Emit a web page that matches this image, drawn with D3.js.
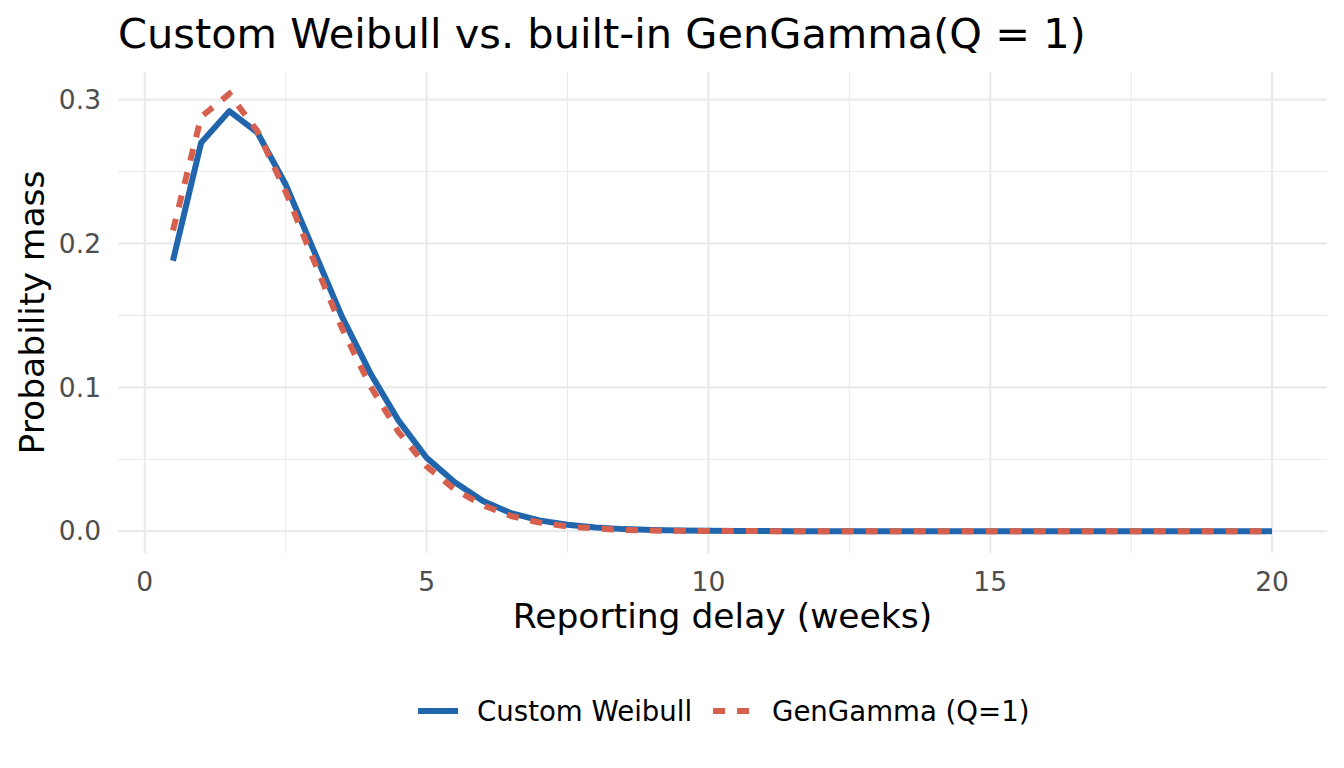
<!DOCTYPE html>
<html>
<head>
<meta charset="utf-8">
<script src="https://cdn.jsdelivr.net/npm/d3@7"></script>
<style>
  body { margin: 0; background: #fff; }
  text { font-family: "DejaVu Sans", sans-serif; }
</style>
</head>
<body>
<div id="chart"></div>
<script>
// delay grid (weeks)
const delays = d3.range(1, 41).map(i => i * 0.5);

// probability mass
const weibull = [0.188, 0.270, 0.292, 0.277, 0.241, 0.195, 0.149, 0.110, 0.077, 0.051,
  0.034, 0.021, 0.0125, 0.0075, 0.0045, 0.0026, 0.0014, 0.0008, 0.0004, 0.0002,
  0.0001, 0.00005, 0, 0, 0, 0, 0, 0, 0, 0,
  0, 0, 0, 0, 0, 0, 0, 0, 0, 0];
const gengamma = [0.209, 0.288, 0.304, 0.278, 0.236, 0.188, 0.141, 0.101, 0.069, 0.045,
  0.029, 0.018, 0.0105, 0.006, 0.0033, 0.0018, 0.0009, 0.0004, 0.0002, 0.0001,
  0.00004, 0, 0, 0, 0, 0, 0, 0, 0, 0,
  0, 0, 0, 0, 0, 0, 0, 0, 0, 0];

const seriesNames = ["Custom Weibull", "GenGamma (Q=1)"];
const seriesColors = ["#2166ac", "#d6604d"];
const xTicks = [0, 5, 10, 15, 20];
const yTicks = [0, 0.1, 0.2, 0.3];

const W = 1344, H = 768;
const panel = { left: 118, right: 1327, top: 72, bottom: 553 };

const svg = d3.select("#chart").append("svg")
  .attr("width", W).attr("height", H);

// ggplot style 5% expansion
const xExt = d3.extent(delays);
const xPad = (xExt[1] - xExt[0]) * 0.05;
const yMax = d3.max(weibull.concat(gengamma));
const yPad = yMax * 0.05;

const x = d3.scaleLinear().domain([xExt[0] - xPad, xExt[1] + xPad]).range([panel.left, panel.right]);
const y = d3.scaleLinear().domain([-yPad, yMax + yPad]).range([panel.bottom, panel.top]);

// grid
const grid = svg.append("g");
const xMinor = [2.5, 7.5, 12.5, 17.5];
const yMinor = [0.05, 0.15, 0.25];
grid.selectAll("line.xminor").data(xMinor).join("line")
  .attr("x1", d => x(d)).attr("x2", d => x(d))
  .attr("y1", panel.top).attr("y2", panel.bottom)
  .attr("stroke", "#ebebeb").attr("stroke-width", 1.1);
grid.selectAll("line.yminor").data(yMinor).join("line")
  .attr("y1", d => y(d)).attr("y2", d => y(d))
  .attr("x1", panel.left).attr("x2", panel.right)
  .attr("stroke", "#ebebeb").attr("stroke-width", 1.1);
grid.selectAll("line.xmajor").data(xTicks).join("line")
  .attr("x1", d => x(d)).attr("x2", d => x(d))
  .attr("y1", panel.top).attr("y2", panel.bottom)
  .attr("stroke", "#ebebeb").attr("stroke-width", 2.2);
grid.selectAll("line.ymajor").data(yTicks).join("line")
  .attr("y1", d => y(d)).attr("y2", d => y(d))
  .attr("x1", panel.left).attr("x2", panel.right)
  .attr("stroke", "#ebebeb").attr("stroke-width", 2.2);

// tick labels
svg.append("g").selectAll("text").data(yTicks).join("text")
  .attr("x", 101).attr("y", d => y(d))
  .attr("dy", "0.35em")
  .attr("text-anchor", "end")
  .attr("fill", "#4d4d4d")
  .style("font-size", "26.5px")
  .text(d => d3.format(".1f")(d));

svg.append("g").selectAll("text").data(xTicks).join("text")
  .attr("x", d => x(d)).attr("y", 591)
  .attr("text-anchor", "middle")
  .attr("fill", "#4d4d4d")
  .style("font-size", "26.5px")
  .text(d => d);

// lines
const line = d3.line().x((d, i) => x(delays[i])).y(d => y(d));
svg.append("path").datum(weibull)
  .attr("d", line)
  .attr("fill", "none")
  .attr("stroke", seriesColors[0])
  .attr("stroke-width", 6)
  .attr("stroke-linejoin", "round");
svg.append("path").datum(gengamma)
  .attr("d", line)
  .attr("fill", "none")
  .attr("stroke", seriesColors[1])
  .attr("stroke-width", 6)
  .attr("stroke-dasharray", "12,12");

// titles
svg.append("text")
  .attr("x", 118).attr("y", 48)
  .style("font-size", "41.5px")
  .attr("fill", "#000")
  .text("Custom Weibull vs. built-in GenGamma(Q = 1)");

svg.append("text")
  .attr("x", (panel.left + panel.right) / 2).attr("y", 628)
  .attr("text-anchor", "middle")
  .style("font-size", "34.5px")
  .text("Reporting delay (weeks)");

svg.append("text")
  .attr("transform", `translate(44,${(panel.top + panel.bottom) / 2}) rotate(-90)`)
  .attr("text-anchor", "middle")
  .style("font-size", "34.5px")
  .text("Probability mass");

// legend
const legend = svg.append("g");
const legendX = [418, 713];
seriesNames.forEach((name, i) => {
  legend.append("line")
    .attr("x1", legendX[i]).attr("x2", legendX[i] + 40)
    .attr("y1", 711).attr("y2", 711)
    .attr("stroke", seriesColors[i])
    .attr("stroke-width", 6)
    .attr("stroke-dasharray", i === 1 ? "12,12" : null);
  legend.append("text")
    .attr("x", legendX[i] + 59).attr("y", 711)
    .attr("dy", "0.35em")
    .style("font-size", "27.6px")
    .text(name);
});
</script>
</body>
</html>
